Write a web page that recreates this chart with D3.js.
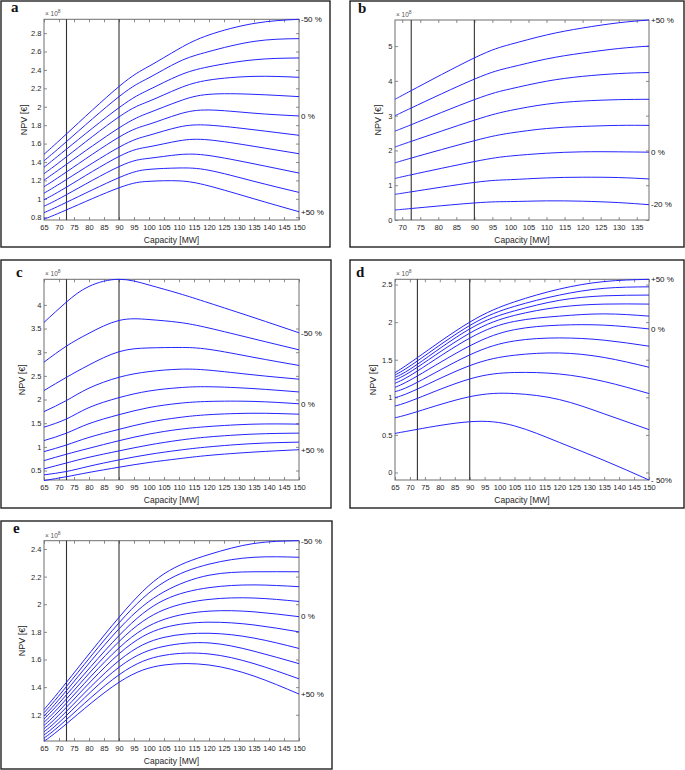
<!DOCTYPE html>
<html><head><meta charset="utf-8">
<script src="https://cdn.jsdelivr.net/npm/d3@7"></script>
<style>body{margin:0;background:#fff}svg{display:block}</style>
</head><body>
<svg id="chart" width="685" height="770"></svg>
<script>
// ---------- DATA (NPV in units of 1e8 €) ----------
const xTicksMain = [65,70,75,80,85,90,95,100,105,110,115,120,125,130,135,140,145,150];
const xTicksB = [70,75,80,85,90,95,100,105,110,115,120,125,130,135];
const markerCapacities = [72.5, 90];

// Panel a
const capA = [65, 72.5, 90, 100, 110, 120, 135, 150];
const npvA = [
  [1.484, 1.705, 2.22, 2.44, 2.63, 2.78, 2.905, 2.95],
  [1.414, 1.622, 2.11, 2.315, 2.49, 2.60, 2.71, 2.74],
  [1.343, 1.54, 1.99, 2.185, 2.34, 2.435, 2.51, 2.53],
  [1.273, 1.457, 1.89, 2.06, 2.20, 2.29, 2.33, 2.32],
  [1.202, 1.375, 1.77, 1.935, 2.06, 2.135, 2.135, 2.11],
  [1.132, 1.292, 1.67, 1.81, 1.92, 1.965, 1.93, 1.90],
  [1.061, 1.21, 1.56, 1.69, 1.78, 1.80, 1.75, 1.69],
  [0.991, 1.127, 1.46, 1.565, 1.63, 1.64, 1.57, 1.49],
  [0.920, 1.045, 1.35, 1.44, 1.48, 1.47, 1.38, 1.28],
  [0.850, 0.962, 1.23, 1.32, 1.335, 1.31, 1.19, 1.07],
  [0.779, 0.88, 1.12, 1.19, 1.195, 1.14, 1.00, 0.86]
];
const yTicksA = [0.8,1,1.2,1.4,1.6,1.8,2,2.2,2.4,2.6,2.8];
const labelsA = ["-50 %", "0 %", "+50 %"];
const labelSeriesA = [0, 5, 10];

// Panel b
const capB = [68, 72.5, 90, 100, 110, 120, 130, 138.4];
const npvB = [
  [3.47, 3.72, 4.66, 5.05, 5.32, 5.52, 5.67, 5.75],
  [3.00, 3.22, 4.05, 4.39, 4.63, 4.80, 4.93, 5.00],
  [2.56, 2.74, 3.46, 3.77, 3.99, 4.13, 4.21, 4.24],
  [2.10, 2.26, 2.87, 3.15, 3.33, 3.42, 3.46, 3.47],
  [1.64, 1.78, 2.28, 2.50, 2.63, 2.69, 2.72, 2.72],
  [1.19, 1.30, 1.68, 1.84, 1.92, 1.96, 1.96, 1.95],
  [0.74, 0.81, 1.08, 1.16, 1.21, 1.23, 1.22, 1.18],
  [0.29, 0.33, 0.49, 0.53, 0.55, 0.54, 0.50, 0.44]
];
const yTicksB = [0,1,2,3,4,5];
const labelsB = ["+50 %", "0 %", "-20 %"];
const labelSeriesB = [0, 5, 7];

// Panel c
const capC = [65, 72.5, 80, 90, 100, 110, 120, 135, 150];
const npvC = [
  [3.63, 4.06, 4.39, 4.54, 4.42, 4.24, 4.04, 3.73, 3.41],
  [2.79, 3.13, 3.40, 3.67, 3.69, 3.63, 3.51, 3.28, 3.05],
  [2.19, 2.47, 2.73, 3.01, 3.09, 3.10, 3.06, 2.89, 2.72],
  [1.745, 1.98, 2.24, 2.47, 2.59, 2.64, 2.62, 2.52, 2.43],
  [1.416, 1.59, 1.83, 2.04, 2.18, 2.25, 2.27, 2.23, 2.16],
  [1.133, 1.29, 1.49, 1.68, 1.83, 1.92, 1.96, 1.96, 1.91],
  [0.90, 1.04, 1.20, 1.37, 1.52, 1.62, 1.68, 1.71, 1.69],
  [0.71, 0.845, 0.97, 1.13, 1.27, 1.37, 1.43, 1.48, 1.48],
  [0.535, 0.66, 0.78, 0.915, 1.04, 1.14, 1.21, 1.27, 1.29],
  [0.408, 0.48, 0.59, 0.725, 0.84, 0.93, 1.00, 1.07, 1.10],
  [0.288, 0.37, 0.46, 0.57, 0.67, 0.75, 0.82, 0.89, 0.94]
];
const yTicksC = [0.5,1,1.5,2,2.5,3,3.5,4];
const labelsC = ["-50 %", "0 %", "+50 %"];
const labelSeriesC = [0, 5, 10];

// Panel d
const capD = [65, 72.5, 90, 105, 120, 135, 150];
const npvD = [
  [1.328, 1.528, 2.00, 2.27, 2.44, 2.54, 2.57],
  [1.297, 1.484, 1.955, 2.21, 2.36, 2.45, 2.47],
  [1.267, 1.44, 1.91, 2.15, 2.29, 2.35, 2.36],
  [1.231, 1.40, 1.853, 2.09, 2.20, 2.24, 2.24],
  [1.187, 1.35, 1.787, 2.01, 2.08, 2.11, 2.08],
  [1.133, 1.284, 1.684, 1.90, 1.96, 1.96, 1.91],
  [1.075, 1.20, 1.564, 1.75, 1.79, 1.76, 1.68],
  [0.995, 1.11, 1.421, 1.56, 1.59, 1.53, 1.40],
  [0.884, 0.986, 1.244, 1.33, 1.31, 1.21, 1.05],
  [0.728, 0.81, 1.008, 1.05, 0.97, 0.78, 0.57],
  [0.52, 0.574, 0.675, 0.62, 0.40, 0.16, -0.10]
];
const yTicksD = [0,0.5,1,1.5,2,2.5];
const labelsD = ["+50 %", "0 %", "- 50%"];
const labelSeriesD = [0, 5, 10];

// Panel e
const capE = [65, 72.5, 90, 105, 120, 135, 150];
const npvE = [
  [1.238, 1.435, 1.905, 2.22, 2.36, 2.44, 2.46],
  [1.215, 1.405, 1.865, 2.16, 2.29, 2.34, 2.34],
  [1.192, 1.375, 1.822, 2.09, 2.21, 2.235, 2.235],
  [1.169, 1.345, 1.773, 2.03, 2.12, 2.14, 2.127],
  [1.146, 1.315, 1.73, 1.96, 2.035, 2.045, 2.02],
  [1.123, 1.285, 1.684, 1.89, 1.95, 1.945, 1.91],
  [1.10, 1.255, 1.641, 1.83, 1.87, 1.85, 1.80],
  [1.077, 1.225, 1.592, 1.76, 1.79, 1.755, 1.68],
  [1.054, 1.195, 1.544, 1.695, 1.72, 1.66, 1.57],
  [1.031, 1.165, 1.489, 1.63, 1.64, 1.57, 1.46],
  [1.008, 1.135, 1.435, 1.56, 1.56, 1.48, 1.35]
];
const yTicksE = [1.2,1.4,1.6,1.8,2,2.2,2.4];
const labelsE = ["-50 %", "0 %", "+50 %"];
const labelSeriesE = [0, 5, 10];

// ---------- LAYOUT ----------
const panels = [
  {letter:"a", box:[1,1,330,247], plot:[44,19.3,299,220], cap:capA, npv:npvA, xDomain:[65,150], xTicks:xTicksMain, yDomain:[0.77,2.95], yTicks:yTicksA, labels:labelsA, labelSeries:labelSeriesA, letterPos:[11,12], ylabOff:20},
  {letter:"b", box:[350,1,684,247], plot:[395,20,649,220], cap:capB, npv:npvB, xDomain:[68,138.4], xTicks:xTicksB, yDomain:[0,5.75], yTicks:yTicksB, labels:labelsB, labelSeries:labelSeriesB, letterPos:[358,13], ylabOff:17},
  {letter:"c", box:[1,260,331,508], plot:[44,279.3,299,480], cap:capC, npv:npvC, xDomain:[65,150], xTicks:xTicksMain, yDomain:[0.30,4.54], yTicks:yTicksC, labels:labelsC, labelSeries:labelSeriesC, letterPos:[16,277], ylabOff:22},
  {letter:"d", box:[350,260,684,508], plot:[395,279.3,649,480], cap:capD, npv:npvD, xDomain:[65,150], xTicks:xTicksMain, yDomain:[-0.10,2.57], yTicks:yTicksD, labels:labelsD, labelSeries:labelSeriesD, letterPos:[356,277], ylabOff:22},
  {letter:"e", box:[1,521,332,769], plot:[44,540.7,299,741], cap:capE, npv:npvE, xDomain:[65,150], xTicks:xTicksMain, yDomain:[1.01,2.46], yTicks:yTicksE, labels:labelsE, labelSeries:labelSeriesE, letterPos:[13,533], ylabOff:22}
];

const svg = d3.select("#chart");
const FONT = "Liberation Sans, Arial, Helvetica, sans-serif";
const textCol = "#262626";
const axisCol = "#6e6e6e";
const fmt = d3.format("~g");

panels.forEach(p => {
  const [bx0, by0, bx1, by1] = p.box;
  svg.append("rect").attr("x", bx0).attr("y", by0).attr("width", bx1-bx0).attr("height", by1-by0)
    .attr("fill", "none").attr("stroke", "#222").attr("stroke-width", 1.4);

  svg.append("text").attr("x", p.letterPos[0]).attr("y", p.letterPos[1])
    .attr("font-family", "Liberation Serif, Times New Roman, serif").attr("font-weight", "bold")
    .attr("font-size", 15).attr("fill", "#111").text(p.letter);

  const [l, t, r, b] = p.plot;
  const x = d3.scaleLinear().domain(p.xDomain).range([l, r]);
  const y = d3.scaleLinear().domain(p.yDomain).range([b, t]);
  const g = svg.append("g");

  const ax = (gen, tr, labels) => {
    const a = g.append("g").attr("transform", tr).call(gen);
    a.select(".domain").remove();
    a.selectAll(".tick line").attr("stroke", axisCol).attr("stroke-width", 0.8);
    a.selectAll("text").attr("font-family", FONT).attr("font-size", 7.5).attr("fill", textCol);
    if (!labels) a.selectAll("text").remove();
    return a;
  };
  ax(d3.axisBottom(x).tickValues(p.xTicks).tickSize(-3).tickPadding(5).tickFormat(fmt), `translate(0,${b})`, true);
  ax(d3.axisTop(x).tickValues(p.xTicks).tickSize(-3), `translate(0,${t})`, false);
  ax(d3.axisLeft(y).tickValues(p.yTicks).tickSize(-3).tickPadding(2.5).tickFormat(fmt), `translate(${l},0)`, true);
  ax(d3.axisRight(y).tickValues(p.yTicks).tickSize(-3), `translate(${r},0)`, false);

  g.append("rect").attr("x", l).attr("y", t).attr("width", r-l).attr("height", b-t)
    .attr("fill", "none").attr("stroke", axisCol).attr("stroke-width", 1);

  markerCapacities.forEach(c => {
    g.append("line").attr("x1", x(c)).attr("x2", x(c)).attr("y1", t).attr("y2", b)
      .attr("stroke", "#333").attr("stroke-width", 1.1);
  });

  const line = d3.line().x(d => x(d[0])).y(d => y(d[1])).curve(d3.curveNatural);
  p.npv.forEach(s => {
    g.append("path").attr("d", line(s.map((v, i) => [p.cap[i], v])))
      .attr("fill", "none").attr("stroke", "#2424ff").attr("stroke-width", 1);
  });

  p.labels.forEach((lab, i) => {
    const s = p.npv[p.labelSeries[i]];
    g.append("text").attr("x", r + 2).attr("y", y(s[s.length-1])).attr("dy", "0.35em")
      .attr("font-family", FONT).attr("font-size", 8).attr("fill", "#111").text(lab);
  });

  g.append("text").attr("x", (l+r)/2).attr("y", b + 23).attr("text-anchor", "middle")
    .attr("font-family", FONT).attr("font-size", 8.5).attr("fill", textCol).text("Capacity [MW]");
  g.append("text").attr("transform", `translate(${l - p.ylabOff},${(t+b)/2}) rotate(-90)`)
    .attr("text-anchor", "middle").attr("dy", "0.35em")
    .attr("font-family", FONT).attr("font-size", 9).attr("fill", textCol).text("NPV [€]");

  const ex = g.append("text").attr("x", l + 1).attr("y", t - 3)
    .attr("font-family", FONT).attr("font-size", 6.5).attr("fill", "#555");
  ex.append("tspan").text("× 10");
  ex.append("tspan").attr("dy", -3).attr("font-size", 5).text("8");
});
</script>
</body></html>
